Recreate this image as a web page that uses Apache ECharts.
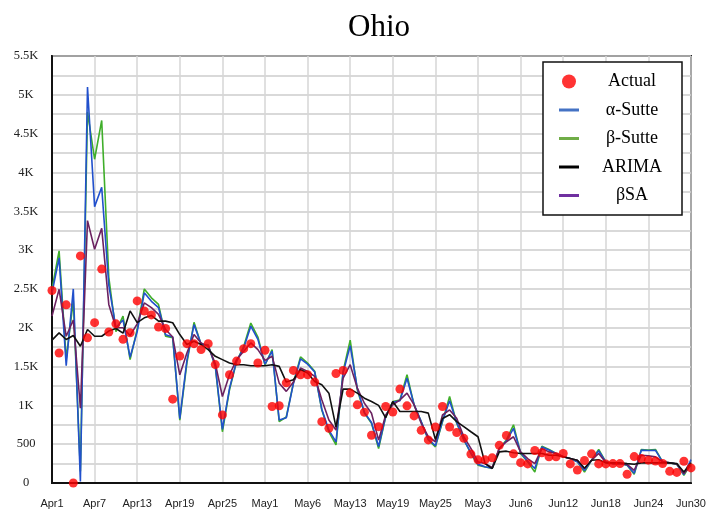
<!DOCTYPE html>
<html>
<head>
<meta charset="utf-8">
<script src="https://cdn.jsdelivr.net/npm/echarts@6/dist/echarts.min.js"></script>
<style>
  html, body { margin: 0; padding: 0; background: #fff; }
  #main { width: 715px; height: 514px; }
</style>
</head>
<body>
<div id="main"></div>
<script>
// x tick labels as printed on the chart (every 6th day)
var xTickLabels = ['Apr1','Apr7','Apr13','Apr19','Apr25','May1','May6','May13','May19','May25','May3','Jun6','Jun12','Jun18','Jun24','Jun30'];

// daily categories Apr1 .. Jun30
var months = [['Apr', 30], ['May', 31], ['Jun', 30]];
var days = [];
months.forEach(function (m) {
  for (var d = 1; d <= m[1]; d++) days.push(m[0] + d);
});

var actual = [
  2480, 1675, 2295, 0, 2925, 1870, 2065, 2755, 1945, 2050,
  1850, 1935, 2345, 2215, 2165, 2010, 1990, 1080, 1635, 1795,
  1795, 1720, 1795, 1525, 877, 1395, 1570, 1730, 1795, 1545,
  1710, 985, 995, 1290, 1450, 1395, 1395, 1300, 790, 705,
  1410, 1450, 1158, 1007, 912, 615, 726, 985, 915, 1210,
  994, 864, 678, 555, 722, 985, 722, 650, 575, 372,
  298, 298, 324, 485, 612, 376, 262, 246, 419, 389,
  337, 337, 380, 246, 168, 290, 376, 246, 246, 250,
  250, 112, 340, 315, 294, 283, 251, 150, 136, 280,
  194
];

var alphaSutte = [
  2450, 2900, 1510, 2500, 20, 5100, 3560, 3810, 2550, 2000,
  2100, 1620, 1950, 2450, 2340, 2260, 1910, 1880, 830, 1580,
  2040, 1790, 1770, 1510, 690, 1220, 1570, 1740, 2020, 1850,
  1530, 1700, 810, 840, 1280, 1600, 1530, 1430, 950, 680,
  530, 1420, 1770, 1220, 910, 780, 470, 860, 1040, 1060,
  1350, 1010, 790, 565, 480, 800, 1060, 780, 560, 390,
  240, 210, 190, 440, 540, 705, 390, 280, 186, 465,
  425, 380, 337, 315, 275, 160, 294, 415, 272, 250,
  250, 232, 125, 423, 418, 420, 272, 259, 245, 110,
  300
];

var betaSutte = [
  2500, 2990, 1600, 2350, 150, 4780, 4170, 4670, 2650, 1950,
  2150, 1590, 1980, 2500, 2385, 2300, 1890, 1870, 810, 1545,
  2070, 1785, 1780, 1500, 660, 1200, 1565, 1760, 2060, 1880,
  1520, 1720, 790, 850, 1290, 1625, 1545, 1440, 940, 660,
  490, 1440, 1840, 1200, 900, 770, 445, 855, 1050, 1070,
  1395, 1005, 790, 555, 465, 790, 1115, 770, 555, 380,
  230, 207, 190, 440, 555, 750, 380, 272, 142, 475,
  432, 380, 337, 315, 272, 142, 294, 432, 272, 250,
  250, 229, 112, 432, 423, 432, 272, 259, 242, 99,
  250
];

var arima = [
  1840, 1934, 1848, 1900, 1761, 1977, 1890, 1890, 1957, 1990,
  1930, 2216, 2065, 2128, 2158, 2085, 2085, 2064, 1912, 1783,
  1826, 1783, 1718, 1632, 1589, 1545, 1524, 1524, 1511, 1511,
  1510, 1524, 1502, 1300, 1330, 1459, 1416, 1308, 1265, 1157,
  720, 1209, 1209, 1157, 1092, 1049, 1000, 840, 1050, 920,
  920, 920, 920, 900, 560, 830, 880, 790, 725, 660,
  596, 250, 186, 401, 410, 389, 380, 380, 380, 380,
  358, 358, 337, 315, 294, 190, 294, 300, 259, 259,
  259, 250, 242, 259, 259, 259, 259, 259, 250, 142,
  260
];

var betaSA = [
  2150, 2495, 1890, 2100, 963, 3380, 3010, 3280, 2300, 2000,
  2000, 1900, 2050, 2320, 2258, 2172, 1977, 1880, 1394, 1675,
  1912, 1804, 1760, 1540, 1114, 1394, 1589, 1697, 1804, 1718,
  1580, 1632, 1286, 1180, 1300, 1480, 1438, 1373, 1071, 812,
  682, 1351, 1524, 1222, 1027, 898, 552, 876, 1006, 1071,
  1157, 1006, 769, 596, 531, 876, 941, 833, 596, 445,
  272, 250, 200, 450, 531, 596, 401, 315, 250, 445,
  401, 380, 340, 315, 294, 186, 294, 380, 265, 250,
  250, 240, 164, 358, 350, 337, 272, 259, 245, 121,
  230
];

var myChart = echarts.init(document.getElementById('main'));

var serif = '"Liberation Serif", "Times New Roman", serif';
var dash = 'path://M0,0H20V3H0Z';

var option = {
  backgroundColor: '#fff',
  animation: false,
  title: {
    text: 'Ohio',
    left: 343,
    top: 7,
    textStyle: { fontFamily: serif, fontSize: 31, fontWeight: 'normal', color: '#000' }
  },
  legend: {
    orient: 'vertical',
    left: 543,
    top: 62,
    padding: [10.5, 20, 10.5, 16],
    itemGap: 10.5,
    itemWidth: 20,
    itemHeight: 14,
    backgroundColor: '#fff',
    borderColor: '#111',
    borderWidth: 1.5,
    formatter: function (name) { return '{a|' + name + '}'; },
    textStyle: {
      rich: {
        a: { width: 96, align: 'center', fontFamily: serif, fontSize: 18, color: '#000' }
      }
    },
    data: [
      { name: 'Actual', icon: 'circle', itemStyle: { color: '#ff0000' } },
      { name: 'α-Sutte', icon: dash, itemStyle: { color: '#4472C4' } },
      { name: 'β-Sutte', icon: dash, itemStyle: { color: '#70AD47' } },
      { name: 'ARIMA', icon: dash, itemStyle: { color: '#000' } },
      { name: 'βSA', icon: dash, itemStyle: { color: '#7030A0' } }
    ]
  },
  grid: {
    left: 52,
    right: 24,
    top: 56,
    bottom: 31,
    show: true,
    borderColor: '#222',
    borderWidth: 2
  },
  xAxis: {
    type: 'category',
    boundaryGap: false,
    data: days,
    axisLine: { lineStyle: { color: '#111', width: 2 } },
    axisTick: { show: false },
    axisLabel: {
      interval: 5,
      margin: 15,
      fontFamily: '"Liberation Sans", Arial, sans-serif',
      fontSize: 11,
      color: '#222',
      formatter: function (val, idx) { return xTickLabels[idx / 6] || ''; }
    },
    splitLine: { show: true, interval: 5, lineStyle: { color: '#d6d6d6', width: 1.5 } }
  },
  yAxis: {
    type: 'value',
    min: 0,
    max: 5500,
    interval: 250,
    axisLine: { show: true, lineStyle: { color: '#111', width: 2 } },
    axisTick: { show: false },
    axisLabel: {
      margin: 26,
      align: 'center',
      fontFamily: serif,
      fontSize: 12.5,
      color: '#222',
      formatter: function (v) {
        if (v % 500 !== 0) return '';
        return v >= 1000 ? (v / 1000) + 'K' : String(v);
      }
    },
    splitLine: { lineStyle: { color: '#cdcdcd', width: 1.5 } }
  },
  series: [
    {
      name: 'β-Sutte', type: 'line', data: betaSutte, symbol: 'none',
      color: '#70AD47', lineStyle: { color: '#3fae2a', width: 1.6 }, z: 2
    },
    {
      name: 'α-Sutte', type: 'line', data: alphaSutte, symbol: 'none',
      color: '#4472C4', lineStyle: { color: '#2150cc', width: 1.6 }, z: 3
    },
    {
      name: 'βSA', type: 'line', data: betaSA, symbol: 'none',
      color: '#7030A0', lineStyle: { color: '#6b2260', width: 1.6 }, z: 4
    },
    {
      name: 'ARIMA', type: 'line', data: arima, symbol: 'none',
      color: '#000', lineStyle: { color: '#111', width: 1.6 }, z: 5
    },
    {
      name: 'Actual', type: 'scatter', data: actual, symbol: 'circle', symbolSize: 9,
      itemStyle: { color: '#ff0000' }, z: 6
    }
  ]
};

myChart.setOption(option);
</script>
</body>
</html>
